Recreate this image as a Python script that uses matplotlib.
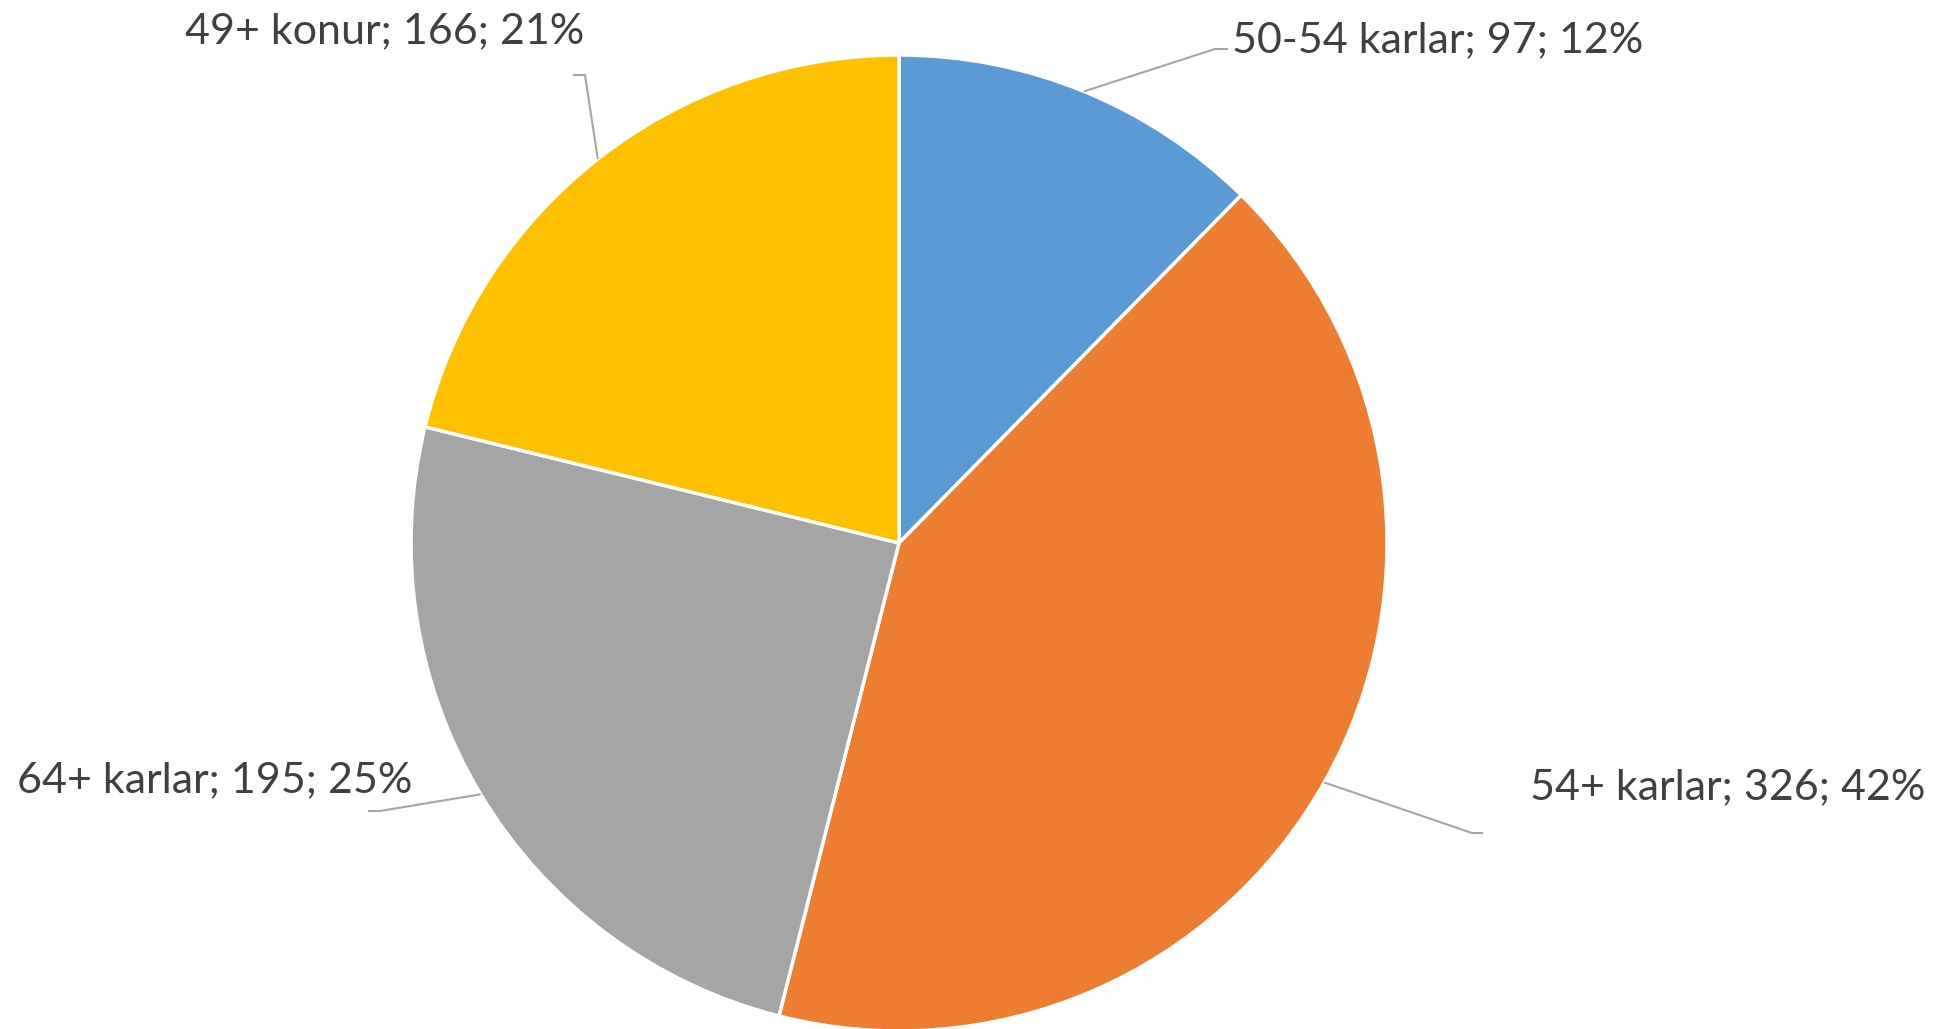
import numpy as np
import matplotlib.pyplot as plt

labels = ["50-54 karlar", "54+ karlar", "64+ karlar", "49+ konur"]
counts = [97, 326, 195, 166]
percents = [12, 42, 25, 21]
colors = ["#5B9BD5", "#ED7D31", "#A5A5A5", "#FFC000"]

W, H = 1949, 1029
cx, cy, r = 899, H - 543, 488

# label placement (pixels, y from top): text left x, baseline y, leader elbow x, elbow end x
text_pos = [(1232, 52), (1530, 799), (17, 792), (185, 43)]
elbows = [(1215, 49, 1228), (1472, 833, 1483), (380, 811, 368), (585, 75, 573)]

fig = plt.figure(figsize=(W / 100, H / 100), dpi=100)
ax = fig.add_axes([0, 0, 1, 1])

wedges, _ = ax.pie(counts, colors=colors, startangle=90, counterclock=False,
                   center=(cx, cy), radius=r,
                   wedgeprops=dict(edgecolor='white', linewidth=2.5))
# pie() resets the limits, so set them afterwards
ax.set_xlim(0, W)
ax.set_ylim(0, H)
ax.set_aspect('equal')
ax.axis('off')

for w, lab, n, p, (tx, ty), (ex, ey, ex2) in zip(wedges, labels, counts, percents, text_pos, elbows):
    mid = np.deg2rad((w.theta1 + w.theta2) / 2)
    sx = cx + r * np.cos(mid)
    sy = cy + r * np.sin(mid)
    ax.plot([sx, ex, ex2], [sy, H - ey, H - ey], color='#A6A6A6', lw=1.5,
            solid_capstyle='butt')
    ax.text(tx, H - ty, "%s; %d; %d%%" % (lab, n, p), ha='left', va='baseline',
            fontsize=31, family='Lato', color='#404040')

fig.savefig("out.png", dpi=100)
